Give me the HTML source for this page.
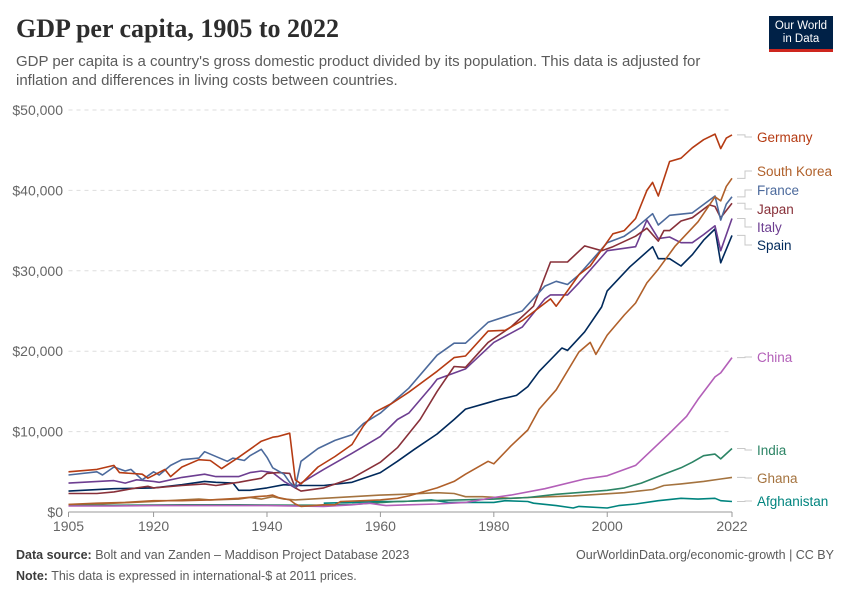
<!DOCTYPE html>
<html><head><meta charset="utf-8">
<style>
body{margin:0;background:#fff;}
#wrap{position:relative;width:850px;height:600px;overflow:hidden;font-family:"Liberation Sans",sans-serif;}
.title{position:absolute;left:16px;top:14px;font-family:"Liberation Serif",serif;font-weight:bold;font-size:26px;color:#2d2d2d;margin:0;}
.sub{position:absolute;left:16px;top:52px;width:720px;font-size:15px;line-height:19px;color:#5b5b5b;}
.logo{position:absolute;left:769px;top:16px;width:64px;height:36px;background:#002147;color:#fff;font-size:11.5px;line-height:13px;text-align:center;padding-top:4px;box-sizing:border-box;border-bottom:3px solid #ce261e;}
.foot{position:absolute;font-size:12.5px;color:#5b5b5b;}
.foot b{color:#3c3c3c;font-weight:bold;}
</style></head>
<body>
<div id="wrap">
<h1 class="title">GDP per capita, 1905 to 2022</h1>
<div class="sub">GDP per capita is a country's gross domestic product divided by its population. This data is adjusted for inflation and differences in living costs between countries.</div>
<div class="logo">Our World<br>in Data</div>
<svg id="chart" width="850" height="600" style="position:absolute;left:0;top:0"></svg>
<div class="foot" style="left:16px;top:548px"><b>Data source:</b> Bolt and van Zanden – Maddison Project Database 2023</div>
<div class="foot" style="right:16px;top:548px">OurWorldinData.org/economic-growth | CC BY</div>
<div class="foot" style="left:16px;top:569px"><b>Note:</b> This data is expressed in international-$ at 2011 prices.</div>
</div>
<script>
const yTickValues=[0,10000,20000,30000,40000,50000];
const yTickLabels=["$0","$10,000","$20,000","$30,000","$40,000","$50,000"];
const xTickYears=[1905,1920,1940,1960,1980,2000,2022];

const germanyYears=[1905,1910,1913,1914,1918,1919,1922,1923,1925,1928,1930,1932,1935,1937,1939,1941,1942,1944,1945,1946,1949,1952,1955,1957,1959,1962,1965,1970,1973,1975,1979,1982,1985,1990,1991,1993,1995,1997,2001,2003,2005,2007,2008,2009,2011,2013,2015,2017,2019,2020,2021,2022];
const germanyValues=[5.0,5.3,5.8,4.9,4.7,4.2,5.3,4.4,5.6,6.5,6.4,5.4,6.8,7.8,8.8,9.3,9.4,9.8,4.0,3.5,5.6,6.9,8.4,10.7,12.4,13.5,14.9,17.5,19.2,19.4,22.5,22.6,23.8,26.5,25.6,27.5,29.5,30.6,34.6,35.0,36.5,40.0,41.0,39.3,43.6,44.0,45.3,46.3,47.0,45.2,46.5,46.9];

const franceYears=[1905,1910,1911,1913,1915,1916,1918,1920,1921,1923,1925,1928,1929,1933,1934,1936,1937,1939,1940,1941,1943,1944,1945,1946,1949,1952,1955,1957,1960,1965,1970,1973,1975,1979,1985,1989,1991,1993,1995,2000,2003,2005,2008,2009,2011,2015,2019,2020,2021,2022];
const franceValues=[4.6,5.0,4.6,5.6,5.1,5.3,4.0,5.0,4.6,5.8,6.5,6.7,7.5,6.3,6.7,6.4,7.0,7.8,6.8,5.5,4.7,3.7,3.1,6.3,7.9,8.9,9.6,11.0,12.3,15.4,19.5,21.0,21.0,23.6,25.0,28.1,28.7,28.3,29.5,33.5,34.3,35.3,37.1,35.7,36.9,37.2,39.3,36.3,38.3,39.2];

const koreaYears=[1905,1910,1915,1920,1925,1930,1935,1938,1940,1941,1942,1944,1945,1946,1950,1952,1953,1957,1960,1963,1965,1970,1973,1975,1979,1980,1983,1986,1988,1991,1995,1997,1998,2000,2003,2005,2007,2009,2012,2016,2019,2020,2021,2022];
const koreaValues=[0.95,1.1,1.2,1.4,1.4,1.5,1.7,1.9,2.0,2.1,1.8,1.5,1.0,0.7,0.9,0.9,1.3,1.4,1.5,1.7,2.0,3.0,3.8,4.7,6.3,6.0,8.2,10.2,12.8,15.2,19.9,21.1,19.6,22.0,24.5,26.0,28.5,30.2,33.1,36.1,39.2,38.7,40.5,41.5];

const japanYears=[1905,1910,1913,1917,1919,1920,1925,1929,1931,1935,1939,1940,1942,1944,1945,1946,1950,1955,1960,1963,1967,1970,1973,1975,1979,1983,1987,1990,1993,1996,1999,2001,2005,2007,2009,2010,2011,2013,2015,2018,2019,2020,2022];
const japanValues=[2.3,2.3,2.5,3.0,3.2,3.0,3.3,3.5,3.3,3.7,4.2,4.8,4.9,4.8,3.0,2.6,3.0,4.2,6.2,8.0,11.5,15.0,18.1,18.0,21.1,23.0,25.6,31.1,31.1,33.1,32.5,33.0,34.3,35.3,33.7,35.0,35.0,36.2,36.6,38.2,38.0,36.6,38.4];

const italyYears=[1905,1913,1915,1917,1920,1921,1925,1929,1931,1935,1937,1939,1941,1943,1945,1946,1950,1955,1960,1963,1965,1969,1970,1975,1980,1985,1989,1990,1993,1995,2000,2005,2007,2009,2011,2013,2015,2017,2019,2020,2022];
const italyValues=[3.6,3.9,3.6,4.0,3.8,3.7,4.3,4.7,4.4,4.4,4.9,5.1,4.9,3.8,3.0,3.6,5.3,7.3,9.4,11.5,12.3,15.6,16.5,17.8,21.1,23.0,26.5,27.0,27.0,28.5,32.5,33.0,36.3,34.0,34.2,33.5,33.5,34.5,35.6,32.5,36.5];

const spainYears=[1905,1913,1920,1925,1929,1931,1934,1935,1937,1940,1943,1945,1950,1955,1960,1963,1966,1970,1973,1975,1979,1981,1984,1986,1988,1992,1993,1996,1999,2000,2002,2004,2008,2009,2011,2013,2015,2017,2019,2020,2022];
const spainValues=[2.6,2.9,3.0,3.4,3.8,3.7,3.6,2.7,2.7,3.0,3.4,3.3,3.3,3.7,4.9,6.3,7.8,9.7,11.5,12.8,13.6,14.0,14.5,15.6,17.5,20.4,20.1,22.4,25.5,27.5,29.0,30.5,33.0,31.5,31.5,30.6,32.0,33.8,35.2,31.0,34.4];

const chinaYears=[1905,1913,1920,1930,1940,1950,1955,1958,1961,1965,1970,1975,1980,1983,1989,1996,2000,2005,2008,2011,2014,2016,2019,2020,2022];
const chinaValues=[0.75,0.75,0.8,0.8,0.8,0.7,0.9,1.1,0.8,0.9,1.0,1.2,1.8,2.1,2.9,4.1,4.5,5.8,7.8,9.8,11.9,14.0,16.8,17.3,19.2];

const indiaYears=[1905,1915,1925,1935,1945,1950,1955,1963,1974,1980,1986,1991,2000,2003,2006,2010,2013,2015,2017,2019,2020,2022];
const indiaValues=[0.8,0.85,0.9,0.9,0.85,0.85,0.95,1.3,1.5,1.6,1.8,2.2,2.7,3.0,3.6,4.7,5.5,6.2,7.0,7.2,6.6,7.9];

const ghanaYears=[1905,1910,1913,1920,1925,1928,1930,1935,1937,1939,1941,1943,1945,1950,1955,1960,1964,1970,1973,1975,1978,1983,1986,1994,2003,2008,2010,2013,2017,2020,2022];
const ghanaValues=[0.8,1.0,1.1,1.3,1.5,1.6,1.5,1.6,1.8,1.6,1.9,1.6,1.5,1.7,1.9,2.1,2.2,2.4,2.3,1.9,1.9,1.7,1.8,2.0,2.4,2.8,3.3,3.5,3.8,4.1,4.3];

const afghanYears=[1950,1955,1960,1964,1969,1972,1980,1982,1986,1987,1991,1994,1995,2000,2002,2005,2009,2013,2016,2019,2020,2022];
const afghanValues=[1.1,1.2,1.3,1.3,1.5,1.2,1.2,1.4,1.3,1.1,0.8,0.5,0.7,0.5,0.8,1.0,1.4,1.7,1.6,1.7,1.4,1.3];

const seriesNames=["Germany","South Korea","France","Japan","Italy","Spain","China","India","Ghana","Afghanistan"];
const seriesColors=["#b53b13","#b0602a","#4c6a9c","#883039","#6d3e91","#00295b","#b35fb8","#2c8465","#a4733f","#00847e"];
const seriesYears=[germanyYears,koreaYears,franceYears,japanYears,italyYears,spainYears,chinaYears,indiaYears,ghanaYears,afghanYears];
const seriesValues=[germanyValues,koreaValues,franceValues,japanValues,italyValues,spainValues,chinaValues,indiaValues,ghanaValues,afghanValues];
const labelY=[137,171,190,209,227,245,357,450,478,501];

const NS="http://www.w3.org/2000/svg";
const svg=document.getElementById('chart');
const X0=68.5,X1=732,Y0=512,Y1=110;
function xScale(yr){return X0+(yr-1905)*(X1-X0)/(2022-1905);}
function yScale(v){return Y0-v*(Y0-Y1)/50000;}
function mk(tag,attrs){const e=document.createElementNS(NS,tag);for(const k in attrs)e.setAttribute(k,attrs[k]);svg.appendChild(e);return e;}

yTickValues.forEach((v,i)=>{
  const y=yScale(v);
  if(v>0){const g=mk('line',{x1:X0,x2:X1,y1:y,y2:y,stroke:'#dddddd','stroke-dasharray':'4,4'});
  
  }
  const t=mk('text',{x:63,y:y+5,'text-anchor':'end','font-size':'14','fill':'#666','font-family':'Liberation Sans, sans-serif'});
  t.textContent=yTickLabels[i];
  
  
});
const ax=mk('line',{x1:X0,x2:X1,y1:Y0,y2:Y0,stroke:'#999','stroke-width':1});


xTickYears.forEach(yr=>{
  const x=xScale(yr);
  const tk=mk('line',{x1:x,x2:x,y1:Y0,y2:Y0+5,stroke:'#999'});
  
  
  const t=mk('text',{x:x,y:Y0+19,'text-anchor':'middle','font-size':'14','fill':'#666','font-family':'Liberation Sans, sans-serif'});
  t.textContent=yr;
  
  
});
for(let s=seriesNames.length-1;s>=0;s--){
  const yrs=seriesYears[s],vals=seriesValues[s];
  const pts=yrs.map((yr,i)=>xScale(yr).toFixed(1)+','+yScale(vals[i]*1000).toFixed(1)).join(' ');
  const p=mk('polyline',{points:pts,fill:'none',stroke:seriesColors[s],'stroke-width':1.6,'stroke-linejoin':'round'});
  
  
  const ey=yScale(vals[vals.length-1]*1000),ly=labelY[s];
  const ld=mk('polyline',{points:`737,${ey} 745,${ey} 745,${ly} 752,${ly}`,fill:'none',stroke:'#c8c8c8','stroke-width':1});
  
  
  const t=mk('text',{x:757,y:ly+5,'font-size':'13.5','fill':seriesColors[s],'font-family':'Liberation Sans, sans-serif'});
  t.textContent=seriesNames[s];
  
  
}
</script>
</body></html>
